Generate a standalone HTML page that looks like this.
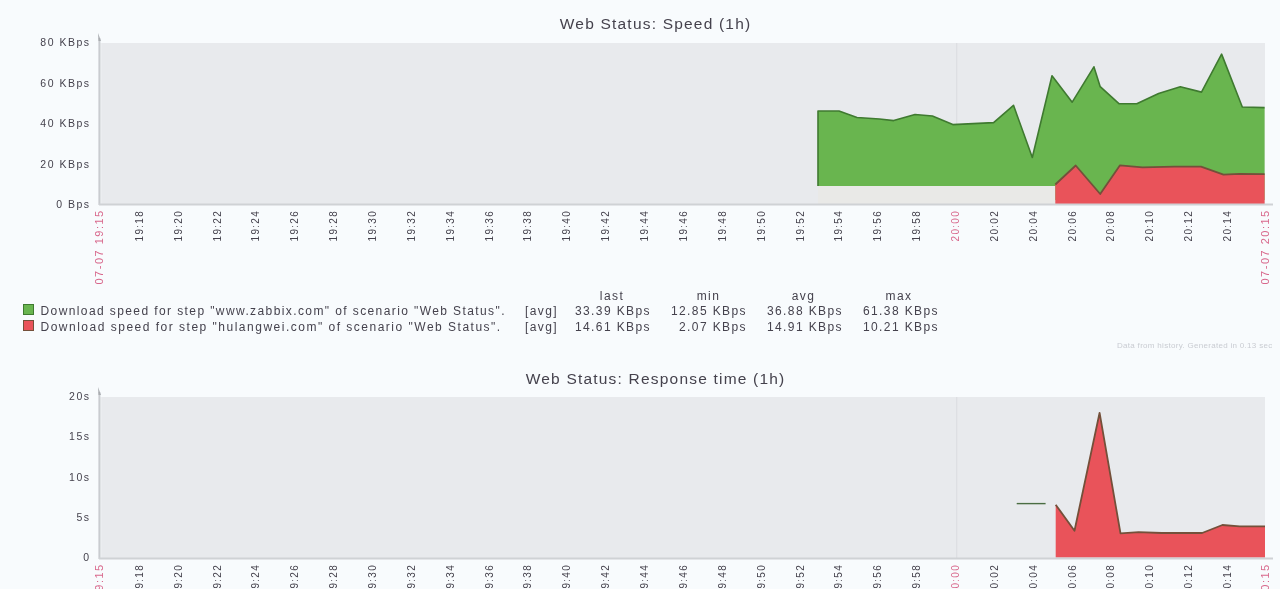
<!DOCTYPE html>
<html><head><meta charset="utf-8"><style>
html,body{margin:0;padding:0;background:#f8fbfd;width:1280px;height:589px;overflow:hidden}
svg{display:block;font-family:"Liberation Sans", sans-serif;will-change:transform;filter:blur(0.35px)}
</style></head><body>
<svg width="1280" height="589" viewBox="0 0 1280 589">
<rect x="0" y="0" width="1280" height="589" fill="#f8fbfd"/>
<rect x="99" y="43" width="1166" height="161" fill="#e8eaed"/>
<line x1="956.7" y1="43" x2="956.7" y2="204" stroke="#dcdee2" stroke-width="1.2"/>
<rect x="818" y="186" width="237" height="18" fill="#e9e9e7"/>
<polygon points="818,186 818,111 839,111 857,117.5 879.5,119 893.7,120.6 915,114.5 932.4,116 952.8,124.6 993.6,122.6 1013.5,105.3 1032.3,157.5 1052,75.8 1072.2,102.2 1093.9,66.8 1100.2,86.7 1119.2,103.8 1136.8,103.8 1158.6,93.5 1180.3,86.7 1201.5,92.1 1221.6,54.1 1242.3,107 1264.6,107.6 1264.6,200 1055.3,200 1055.3,186" fill="#69b54f"/>
<polyline points="818,186 818,111 839,111 857,117.5 879.5,119 893.7,120.6 915,114.5 932.4,116 952.8,124.6 993.6,122.6 1013.5,105.3 1032.3,157.5 1052,75.8 1072.2,102.2 1093.9,66.8 1100.2,86.7 1119.2,103.8 1136.8,103.8 1158.6,93.5 1180.3,86.7 1201.5,92.1 1221.6,54.1 1242.3,107 1264.6,107.6" fill="none" stroke="#3f7a30" stroke-width="1.6" stroke-linejoin="round"/>
<polygon points="1055.3,204 1055.3,184.5 1075.7,165.5 1100.2,194 1120,165.3 1142.5,167.3 1174.4,166.6 1201,166.6 1223.5,174.6 1239.4,173.9 1264.6,174.2 1264.6,204" fill="#e9535a"/>
<polyline points="1055.3,184.5 1075.7,165.5 1100.2,194 1120,165.3 1142.5,167.3 1174.4,166.6 1201,166.6 1223.5,174.6 1239.4,173.9 1264.6,174.2" fill="none" stroke="#74503a" stroke-width="1.8" stroke-linejoin="round"/>
<line x1="100.5" y1="43" x2="100.5" y2="204" stroke="#eef0f2" stroke-width="2"/>
<line x1="99.4" y1="38" x2="99.4" y2="205" stroke="#c9ccd0" stroke-width="2"/>
<path d="M98,33 L101,41 L98.5,41 Z" fill="#a9acb0"/>
<line x1="99" y1="204.5" x2="1273" y2="204.5" stroke="#cfd2d5" stroke-width="2.2"/>
<text x="90.5" y="46" text-anchor="end" font-size="10.5" letter-spacing="1.5" fill="#45424d">80 KBps</text>
<text x="90.5" y="86.5" text-anchor="end" font-size="10.5" letter-spacing="1.5" fill="#45424d">60 KBps</text>
<text x="90.5" y="127" text-anchor="end" font-size="10.5" letter-spacing="1.5" fill="#45424d">40 KBps</text>
<text x="90.5" y="167.5" text-anchor="end" font-size="10.5" letter-spacing="1.5" fill="#45424d">20 KBps</text>
<text x="90.5" y="208" text-anchor="end" font-size="10.5" letter-spacing="1.5" fill="#45424d">0 Bps</text>
<text x="655.6" y="28.5" text-anchor="middle" font-size="15.5" letter-spacing="1.2" fill="#45424d">Web Status: Speed (1h)</text>
<text transform="translate(142.8,209.9) rotate(-90)" text-anchor="end" font-size="10" letter-spacing="1.3" fill="#45424d">19:18</text>
<text transform="translate(181.6,209.9) rotate(-90)" text-anchor="end" font-size="10" letter-spacing="1.3" fill="#45424d">19:20</text>
<text transform="translate(220.5,209.9) rotate(-90)" text-anchor="end" font-size="10" letter-spacing="1.3" fill="#45424d">19:22</text>
<text transform="translate(259.4,209.9) rotate(-90)" text-anchor="end" font-size="10" letter-spacing="1.3" fill="#45424d">19:24</text>
<text transform="translate(298.2,209.9) rotate(-90)" text-anchor="end" font-size="10" letter-spacing="1.3" fill="#45424d">19:26</text>
<text transform="translate(337.1,209.9) rotate(-90)" text-anchor="end" font-size="10" letter-spacing="1.3" fill="#45424d">19:28</text>
<text transform="translate(376.0,209.9) rotate(-90)" text-anchor="end" font-size="10" letter-spacing="1.3" fill="#45424d">19:30</text>
<text transform="translate(414.8,209.9) rotate(-90)" text-anchor="end" font-size="10" letter-spacing="1.3" fill="#45424d">19:32</text>
<text transform="translate(453.7,209.9) rotate(-90)" text-anchor="end" font-size="10" letter-spacing="1.3" fill="#45424d">19:34</text>
<text transform="translate(492.6,209.9) rotate(-90)" text-anchor="end" font-size="10" letter-spacing="1.3" fill="#45424d">19:36</text>
<text transform="translate(531.4,209.9) rotate(-90)" text-anchor="end" font-size="10" letter-spacing="1.3" fill="#45424d">19:38</text>
<text transform="translate(570.3,209.9) rotate(-90)" text-anchor="end" font-size="10" letter-spacing="1.3" fill="#45424d">19:40</text>
<text transform="translate(609.2,209.9) rotate(-90)" text-anchor="end" font-size="10" letter-spacing="1.3" fill="#45424d">19:42</text>
<text transform="translate(648.0,209.9) rotate(-90)" text-anchor="end" font-size="10" letter-spacing="1.3" fill="#45424d">19:44</text>
<text transform="translate(686.9,209.9) rotate(-90)" text-anchor="end" font-size="10" letter-spacing="1.3" fill="#45424d">19:46</text>
<text transform="translate(725.8,209.9) rotate(-90)" text-anchor="end" font-size="10" letter-spacing="1.3" fill="#45424d">19:48</text>
<text transform="translate(764.6,209.9) rotate(-90)" text-anchor="end" font-size="10" letter-spacing="1.3" fill="#45424d">19:50</text>
<text transform="translate(803.5,209.9) rotate(-90)" text-anchor="end" font-size="10" letter-spacing="1.3" fill="#45424d">19:52</text>
<text transform="translate(842.4,209.9) rotate(-90)" text-anchor="end" font-size="10" letter-spacing="1.3" fill="#45424d">19:54</text>
<text transform="translate(881.2,209.9) rotate(-90)" text-anchor="end" font-size="10" letter-spacing="1.3" fill="#45424d">19:56</text>
<text transform="translate(920.1,209.9) rotate(-90)" text-anchor="end" font-size="10" letter-spacing="1.3" fill="#45424d">19:58</text>
<text transform="translate(959.0,209.9) rotate(-90)" text-anchor="end" font-size="10" letter-spacing="1.3" fill="#d8688c">20:00</text>
<text transform="translate(997.8,209.9) rotate(-90)" text-anchor="end" font-size="10" letter-spacing="1.3" fill="#45424d">20:02</text>
<text transform="translate(1036.7,209.9) rotate(-90)" text-anchor="end" font-size="10" letter-spacing="1.3" fill="#45424d">20:04</text>
<text transform="translate(1075.6,209.9) rotate(-90)" text-anchor="end" font-size="10" letter-spacing="1.3" fill="#45424d">20:06</text>
<text transform="translate(1114.4,209.9) rotate(-90)" text-anchor="end" font-size="10" letter-spacing="1.3" fill="#45424d">20:08</text>
<text transform="translate(1153.3,209.9) rotate(-90)" text-anchor="end" font-size="10" letter-spacing="1.3" fill="#45424d">20:10</text>
<text transform="translate(1192.2,209.9) rotate(-90)" text-anchor="end" font-size="10" letter-spacing="1.3" fill="#45424d">20:12</text>
<text transform="translate(1231.0,209.9) rotate(-90)" text-anchor="end" font-size="10" letter-spacing="1.3" fill="#45424d">20:14</text>
<text transform="translate(103,209.3) rotate(-90)" text-anchor="end" font-size="11" letter-spacing="1.5" fill="#d8688c">07-07 19:15</text>
<text transform="translate(1269,209.3) rotate(-90)" text-anchor="end" font-size="11" letter-spacing="1.5" fill="#d8688c">07-07 20:15</text>
<rect x="23.5" y="304.5" width="10" height="10" fill="#69b54f" stroke="#3f7a30"/>
<rect x="23.5" y="320.5" width="10" height="10" fill="#e9535a" stroke="#74503a"/>
<text x="40.5" y="315" font-size="12" letter-spacing="1.4" fill="#45424d">Download speed for step "www.zabbix.com" of scenario "Web Status".</text>
<text x="40.5" y="330.5" font-size="12" letter-spacing="1.5" fill="#45424d">Download speed for step "hulangwei.com" of scenario "Web Status".</text>
<text x="525" y="315" font-size="12" letter-spacing="1.4" fill="#45424d">[avg]</text>
<text x="651" y="315" text-anchor="end" font-size="12" letter-spacing="1.4" fill="#45424d">33.39 KBps</text>
<text x="747" y="315" text-anchor="end" font-size="12" letter-spacing="1.4" fill="#45424d">12.85 KBps</text>
<text x="843" y="315" text-anchor="end" font-size="12" letter-spacing="1.4" fill="#45424d">36.88 KBps</text>
<text x="939" y="315" text-anchor="end" font-size="12" letter-spacing="1.4" fill="#45424d">61.38 KBps</text>
<text x="525" y="330.5" font-size="12" letter-spacing="1.4" fill="#45424d">[avg]</text>
<text x="651" y="330.5" text-anchor="end" font-size="12" letter-spacing="1.4" fill="#45424d">14.61 KBps</text>
<text x="747" y="330.5" text-anchor="end" font-size="12" letter-spacing="1.4" fill="#45424d">2.07 KBps</text>
<text x="843" y="330.5" text-anchor="end" font-size="12" letter-spacing="1.4" fill="#45424d">14.91 KBps</text>
<text x="939" y="330.5" text-anchor="end" font-size="12" letter-spacing="1.4" fill="#45424d">10.21 KBps</text>
<text x="612" y="299.5" text-anchor="middle" font-size="12" letter-spacing="1.4" fill="#45424d">last</text>
<text x="708.5" y="299.5" text-anchor="middle" font-size="12" letter-spacing="1.4" fill="#45424d">min</text>
<text x="803.5" y="299.5" text-anchor="middle" font-size="12" letter-spacing="1.4" fill="#45424d">avg</text>
<text x="899" y="299.5" text-anchor="middle" font-size="12" letter-spacing="1.4" fill="#45424d">max</text>
<text x="1117" y="348" font-size="8" letter-spacing="0.3" fill="#c9ccd2">Data from history. Generated in 0.13 sec</text>
<rect x="99" y="397" width="1166" height="161" fill="#e8eaed"/>
<line x1="956.7" y1="397" x2="956.7" y2="558" stroke="#dcdee2" stroke-width="1.2"/>
<line x1="1016.7" y1="503.6" x2="1045.6" y2="503.6" stroke="#4a6d42" stroke-width="1.4"/>
<polygon points="1055.7,557.6 1055.7,504.7 1074.5,530.7 1099.6,412.8 1120.5,533.4 1138.6,532.2 1161.7,533 1202.1,533 1222.4,525 1239.7,526.4 1265,526.4 1265,557.6" fill="#e9535a"/>
<polyline points="1055.7,504.7 1074.5,530.7 1099.6,412.8 1120.5,533.4 1138.6,532.2 1161.7,533 1202.1,533 1222.4,525 1239.7,526.4 1265,526.4" fill="none" stroke="#74503a" stroke-width="1.8" stroke-linejoin="round"/>
<line x1="100.5" y1="397" x2="100.5" y2="558" stroke="#eef0f2" stroke-width="2"/>
<line x1="99.4" y1="392" x2="99.4" y2="559" stroke="#c9ccd0" stroke-width="2"/>
<path d="M98,387 L101,395 L98.5,395 Z" fill="#a9acb0"/>
<line x1="99" y1="558.5" x2="1273" y2="558.5" stroke="#cfd2d5" stroke-width="2.2"/>
<text x="90.5" y="400" text-anchor="end" font-size="10.5" letter-spacing="1.5" fill="#45424d">20s</text>
<text x="90.5" y="440" text-anchor="end" font-size="10.5" letter-spacing="1.5" fill="#45424d">15s</text>
<text x="90.5" y="480.5" text-anchor="end" font-size="10.5" letter-spacing="1.5" fill="#45424d">10s</text>
<text x="90.5" y="521" text-anchor="end" font-size="10.5" letter-spacing="1.5" fill="#45424d">5s</text>
<text x="90.5" y="561" text-anchor="end" font-size="10.5" letter-spacing="1.5" fill="#45424d">0</text>
<text x="655.6" y="384" text-anchor="middle" font-size="15.5" letter-spacing="1.2" fill="#45424d">Web Status: Response time (1h)</text>
<text transform="translate(142.8,563.9) rotate(-90)" text-anchor="end" font-size="10" letter-spacing="1.3" fill="#45424d">19:18</text>
<text transform="translate(181.6,563.9) rotate(-90)" text-anchor="end" font-size="10" letter-spacing="1.3" fill="#45424d">19:20</text>
<text transform="translate(220.5,563.9) rotate(-90)" text-anchor="end" font-size="10" letter-spacing="1.3" fill="#45424d">19:22</text>
<text transform="translate(259.4,563.9) rotate(-90)" text-anchor="end" font-size="10" letter-spacing="1.3" fill="#45424d">19:24</text>
<text transform="translate(298.2,563.9) rotate(-90)" text-anchor="end" font-size="10" letter-spacing="1.3" fill="#45424d">19:26</text>
<text transform="translate(337.1,563.9) rotate(-90)" text-anchor="end" font-size="10" letter-spacing="1.3" fill="#45424d">19:28</text>
<text transform="translate(376.0,563.9) rotate(-90)" text-anchor="end" font-size="10" letter-spacing="1.3" fill="#45424d">19:30</text>
<text transform="translate(414.8,563.9) rotate(-90)" text-anchor="end" font-size="10" letter-spacing="1.3" fill="#45424d">19:32</text>
<text transform="translate(453.7,563.9) rotate(-90)" text-anchor="end" font-size="10" letter-spacing="1.3" fill="#45424d">19:34</text>
<text transform="translate(492.6,563.9) rotate(-90)" text-anchor="end" font-size="10" letter-spacing="1.3" fill="#45424d">19:36</text>
<text transform="translate(531.4,563.9) rotate(-90)" text-anchor="end" font-size="10" letter-spacing="1.3" fill="#45424d">19:38</text>
<text transform="translate(570.3,563.9) rotate(-90)" text-anchor="end" font-size="10" letter-spacing="1.3" fill="#45424d">19:40</text>
<text transform="translate(609.2,563.9) rotate(-90)" text-anchor="end" font-size="10" letter-spacing="1.3" fill="#45424d">19:42</text>
<text transform="translate(648.0,563.9) rotate(-90)" text-anchor="end" font-size="10" letter-spacing="1.3" fill="#45424d">19:44</text>
<text transform="translate(686.9,563.9) rotate(-90)" text-anchor="end" font-size="10" letter-spacing="1.3" fill="#45424d">19:46</text>
<text transform="translate(725.8,563.9) rotate(-90)" text-anchor="end" font-size="10" letter-spacing="1.3" fill="#45424d">19:48</text>
<text transform="translate(764.6,563.9) rotate(-90)" text-anchor="end" font-size="10" letter-spacing="1.3" fill="#45424d">19:50</text>
<text transform="translate(803.5,563.9) rotate(-90)" text-anchor="end" font-size="10" letter-spacing="1.3" fill="#45424d">19:52</text>
<text transform="translate(842.4,563.9) rotate(-90)" text-anchor="end" font-size="10" letter-spacing="1.3" fill="#45424d">19:54</text>
<text transform="translate(881.2,563.9) rotate(-90)" text-anchor="end" font-size="10" letter-spacing="1.3" fill="#45424d">19:56</text>
<text transform="translate(920.1,563.9) rotate(-90)" text-anchor="end" font-size="10" letter-spacing="1.3" fill="#45424d">19:58</text>
<text transform="translate(959.0,563.9) rotate(-90)" text-anchor="end" font-size="10" letter-spacing="1.3" fill="#d8688c">20:00</text>
<text transform="translate(997.8,563.9) rotate(-90)" text-anchor="end" font-size="10" letter-spacing="1.3" fill="#45424d">20:02</text>
<text transform="translate(1036.7,563.9) rotate(-90)" text-anchor="end" font-size="10" letter-spacing="1.3" fill="#45424d">20:04</text>
<text transform="translate(1075.6,563.9) rotate(-90)" text-anchor="end" font-size="10" letter-spacing="1.3" fill="#45424d">20:06</text>
<text transform="translate(1114.4,563.9) rotate(-90)" text-anchor="end" font-size="10" letter-spacing="1.3" fill="#45424d">20:08</text>
<text transform="translate(1153.3,563.9) rotate(-90)" text-anchor="end" font-size="10" letter-spacing="1.3" fill="#45424d">20:10</text>
<text transform="translate(1192.2,563.9) rotate(-90)" text-anchor="end" font-size="10" letter-spacing="1.3" fill="#45424d">20:12</text>
<text transform="translate(1231.0,563.9) rotate(-90)" text-anchor="end" font-size="10" letter-spacing="1.3" fill="#45424d">20:14</text>
<text transform="translate(103,563.3) rotate(-90)" text-anchor="end" font-size="11" letter-spacing="1.5" fill="#d8688c">07-07 19:15</text>
<text transform="translate(1269,563.3) rotate(-90)" text-anchor="end" font-size="11" letter-spacing="1.5" fill="#d8688c">07-07 20:15</text>
</svg>
</body></html>
